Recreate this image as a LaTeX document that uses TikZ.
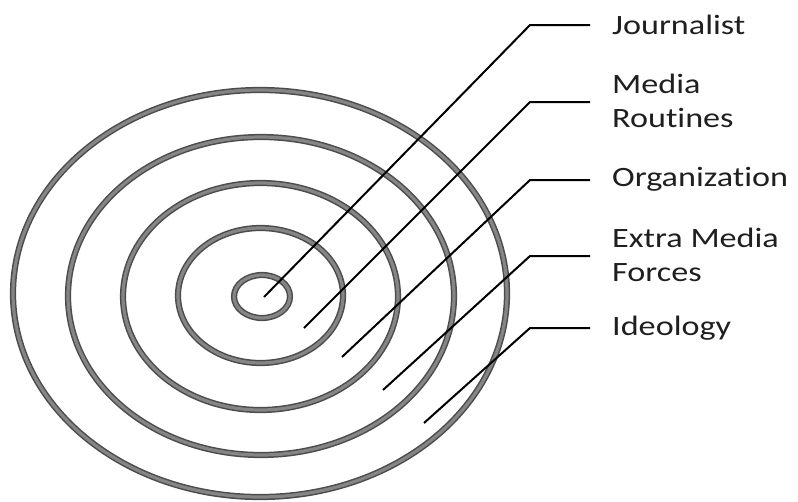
\documentclass[tikz,border=0pt]{standalone}
\usepackage{fontspec}
\setmainfont{Carlito}[Ligatures=NoCommon]
\usepackage{graphicx}
\begin{document}
\begin{tikzpicture}[x=1pt,y=-1pt,
  ring/.style={draw=black!70, line width=1.5pt, double=black!48, double distance=3.2pt},
  leader/.style={draw=black, line width=2pt, line join=miter},
  lbl/.style={anchor=base west, inner sep=0pt, text=black!88, font=\fontsize{28}{34}\selectfont}]
\useasboundingbox (0,0) rectangle (798,501);
% ellipse centres
\coordinate (o1) at (260,293.5);
\coordinate (o2) at (261,296);
\coordinate (o3) at (260.5,296.5);
\coordinate (o4) at (260.5,295.5);
\coordinate (o5) at (262,296.5);
\draw[ring] (o1) ellipse [x radius=247, y radius=203.5];
\draw[ring] (o2) ellipse [x radius=193, y radius=159];
\draw[ring] (o3) ellipse [x radius=137.5, y radius=113.5];
\draw[ring] (o4) ellipse [x radius=82.5, y radius=67.5];
\draw[ring] (o5) ellipse [x radius=28, y radius=21.5];
% leader points
\coordinate (p1) at (264,297);  \coordinate (c1) at (530,25);  \coordinate (e1) at (590,25);
\coordinate (p2) at (304,328);  \coordinate (c2) at (530,102); \coordinate (e2) at (590,102);
\coordinate (p3) at (342,357);  \coordinate (c3) at (530,180); \coordinate (e3) at (590,180);
\coordinate (p4) at (383,390);  \coordinate (c4) at (530,256); \coordinate (e4) at (590,256);
\coordinate (p5) at (424,423);  \coordinate (c5) at (530,328); \coordinate (e5) at (590,328);
\draw[leader] (p1) -- (c1) -- (e1);
\draw[leader] (p2) -- (c2) -- (e2);
\draw[leader] (p3) -- (c3) -- (e3);
\draw[leader] (p4) -- (c4) -- (e4);
\draw[leader] (p5) -- (c5) -- (e5);
% labels
\node[lbl] (t1) at (612,34) {\scalebox{1.22}[1]{Journalist}};
\node[lbl] (t2) at (612,93) {\scalebox{1.22}[1]{\begin{tabular}[t]{@{}l@{}}Media\\Routines\end{tabular}}};
\node[lbl] (t3) at (612,186) {\scalebox{1.22}[1]{Organization}};
\node[lbl] (t4) at (612,247) {\scalebox{1.22}[1]{\begin{tabular}[t]{@{}l@{}}Extra Media\\Forces\end{tabular}}};
\node[lbl] (t5) at (612,335) {\scalebox{1.22}[1]{Ideology}};
\end{tikzpicture}
\end{document}
